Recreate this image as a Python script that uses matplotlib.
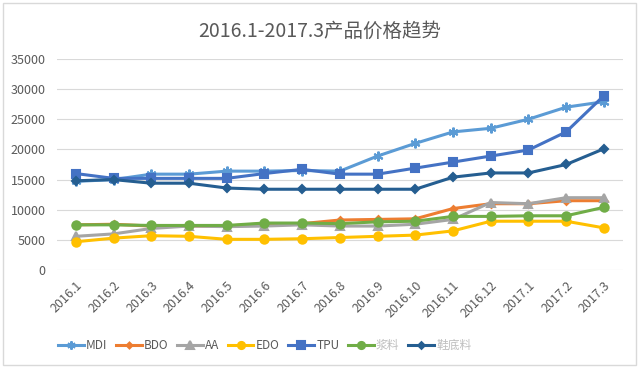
import matplotlib
matplotlib.use("Agg")
import matplotlib.pyplot as plt
from matplotlib.patches import Rectangle

plt.rcParams['font.family'] = ['Noto Sans CJK SC', 'DejaVu Sans']

months = ['2016.1', '2016.2', '2016.3', '2016.4', '2016.5', '2016.6', '2016.7', '2016.8',
          '2016.9', '2016.10', '2016.11', '2016.12', '2017.1', '2017.2', '2017.3']

mdi = [14700, 15000, 15900, 15900, 16400, 16400, 16500, 16400, 18900, 21000, 22900, 23500, 25000, 27000, 27900]
bdo = [7500, 7600, 7300, 7300, 7300, 7700, 7700, 8300, 8400, 8500, 10200, 11000, 11000, 11500, 11500]
aa = [5600, 6000, 6900, 7300, 7200, 7300, 7500, 7300, 7300, 7600, 8400, 11200, 11000, 12000, 12000]
edo = [4700, 5300, 5700, 5600, 5100, 5100, 5200, 5400, 5600, 5800, 6500, 8100, 8100, 8100, 7000]
tpu = [16000, 15200, 15200, 15200, 15200, 16000, 16700, 15900, 15900, 16900, 17900, 18900, 19900, 22900, 28900]
jiangliao = [7500, 7500, 7400, 7400, 7400, 7800, 7800, 7700, 8000, 8100, 8900, 8900, 9000, 9000, 10400]
xiedi = [14800, 15000, 14400, 14400, 13600, 13400, 13400, 13400, 13400, 13400, 15400, 16100, 16100, 17500, 20100]

series = [
    ('MDI', mdi, '#5B9BD5', (6, 2, 0), 7),
    ('BDO', bdo, '#ED7D31', 'D', 3.5),
    ('AA', aa, '#A5A5A5', '^', 6),
    ('EDO', edo, '#FFC000', 'o', 6),
    ('TPU', tpu, '#4472C4', 's', 6),
    ('浆料', jiangliao, '#70AD47', 'o', 6),
    ('鞋底料', xiedi, '#255E91', 'D', 4),
]

fig = plt.figure(figsize=(6.4, 3.68), dpi=100)
ax = fig.add_axes([0.089, 0.266, 0.884, 0.574])

x = list(range(len(months)))
for name, vals, color, marker, ms in series:
    ax.plot(x, vals, color=color, marker=marker, markersize=ms, linewidth=2.2,
            markeredgewidth=1.5, label=name)

ax.set_ylim(0, 35000)
ax.set_yticks(range(0, 35001, 5000))
ax.set_xlim(-0.5, len(months) - 0.5)
ax.set_xticks(x)
ax.set_xticklabels(months, rotation=45, ha='right', rotation_mode='anchor')
ax.tick_params(axis='both', length=0, labelsize=9, colors='#595959')
ax.tick_params(axis='x', pad=6)
ax.tick_params(axis='y', pad=8)
ax.grid(axis='y', color='#D9D9D9', linewidth=0.8)
ax.set_axisbelow(True)
for s in ['top', 'right', 'left', 'bottom']:
    ax.spines[s].set_visible(False)

fig.text(0.5, 0.915, '2016.1-2017.3产品价格趋势', ha='center', va='center',
         fontsize=14, color='#595959')

leg = fig.legend(loc='center left', bbox_to_anchor=(0.09, 0.062), ncol=7, frameon=False,
                 fontsize=8.5, handlelength=2.2, columnspacing=0.7, handletextpad=0.2,
                 borderaxespad=0, borderpad=0, markerscale=0.85)
for t in leg.get_texts():
    if t.get_text() in ('浆料', '鞋底料'):
        t.set_color('#BFBFBF')
    else:
        t.set_color('#595959')

fig.patches.append(Rectangle((0.004, 0.008), 0.99, 0.985, transform=fig.transFigure,
                             fill=False, edgecolor='#D9D9D9', linewidth=1))

fig.savefig('out.png', dpi=100, facecolor='white')
